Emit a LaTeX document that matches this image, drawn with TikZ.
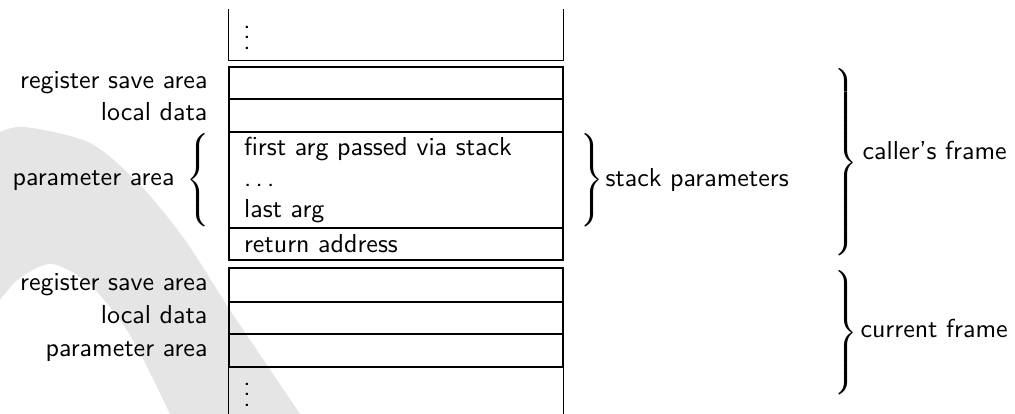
\documentclass[tikz,border=0pt]{standalone}
\newcommand{\rbr}[1]{$\delimiterfactor=1000\delimitershortfall=0pt\left.\vcenter{\hbox{\rule{0pt}{#1}}}\right\}$}
\newcommand{\lbr}[1]{$\delimiterfactor=1000\delimitershortfall=0pt\left\{\vcenter{\hbox{\rule{0pt}{#1}}}\right.$}
\begin{document}
\begin{tikzpicture}[x=0.385pt,y=-0.385pt,
  every node/.style={font=\sffamily, inner sep=0pt},
  cell/.style={draw, line width=0.6pt, minimum width=128.6pt, inner xsep=5.78pt, inner ysep=0pt, text width=117pt, align=left},
  open/.style={minimum width=128.6pt, inner sep=0pt},
  edge/.style={line width=0.6pt},
  lab/.style={anchor=base east},
  rlab/.style={anchor=base west},
  brc/.style={anchor=west}]
\useasboundingbox (0,0) rectangle (1015,414);
% light grey swoosh in the background
\fill[black!10] plot[smooth] coordinates {(0,132) (25,127) (90,143) (140,185) (185,240) (230,310) (300,414)}
  -- (170,414) -- plot[smooth] coordinates {(170,414) (130,335) (90,285) (52,264) (20,278) (0,300)} -- cycle;
% stack column
\node[open, minimum height=19.25pt] (topbox) at (396,35) {};
\draw[edge] (topbox.north west) -- (topbox.south west) -- (topbox.south east) -- (topbox.north east);
\node (tdots) at (247,30) {\vdots};
\node[cell, minimum height=12.4pt] (rsa1) at (396,83) {};
\node[cell, minimum height=12.7pt] (ld1) at (396,115.5) {};
\node[cell, minimum height=36.96pt] (args) at (396,180) {first arg passed via stack\\ .\kern1.67pt.\kern1.67pt.\\ last arg};
\node[cell, minimum height=12.5pt] (ret) at (396,244) {return address};
\node[cell, minimum height=12.9pt] (rsa2) at (396,285) {};
\node[cell, minimum height=12.5pt] (ld2) at (396,318) {};
\node[cell, minimum height=12.7pt] (pa2) at (396,350.5) {};
\node[open, minimum height=18.1pt] (botbox) at (396,390.5) {};
\draw[edge] (botbox.south west) -- (botbox.north west) -- (botbox.north east) -- (botbox.south east);
\node (bdots) at (247,387) {\vdots};
% left labels
\node[lab] (l1) at (208,89) {register save area};
\node[lab] (l2) at (208,121) {local data};
\node[lab] (l3) at (175,186) {parameter area};
\node[brc] (lb) at (186,180) {\lbr{35.9pt}};
\node[lab] (l4) at (208,291) {register save area};
\node[lab] (l5) at (208,324) {local data};
\node[lab] (l6) at (208,356.5) {parameter area};
% right braces and labels
\node[brc] (sb) at (577,180) {\rbr{35.9pt}};
\node[rlab] (sl) at (605,187) {stack parameters};
\node[brc] (cb) at (831,162.5) {\rbr{71.9pt}};
\node[rlab] (cl) at (862,160) {caller's frame};
\node[brc] (fb) at (831,332.5) {\rbr{47.9pt}};
\node[rlab] (fl) at (860,338) {current frame};
\end{tikzpicture}
\end{document}
